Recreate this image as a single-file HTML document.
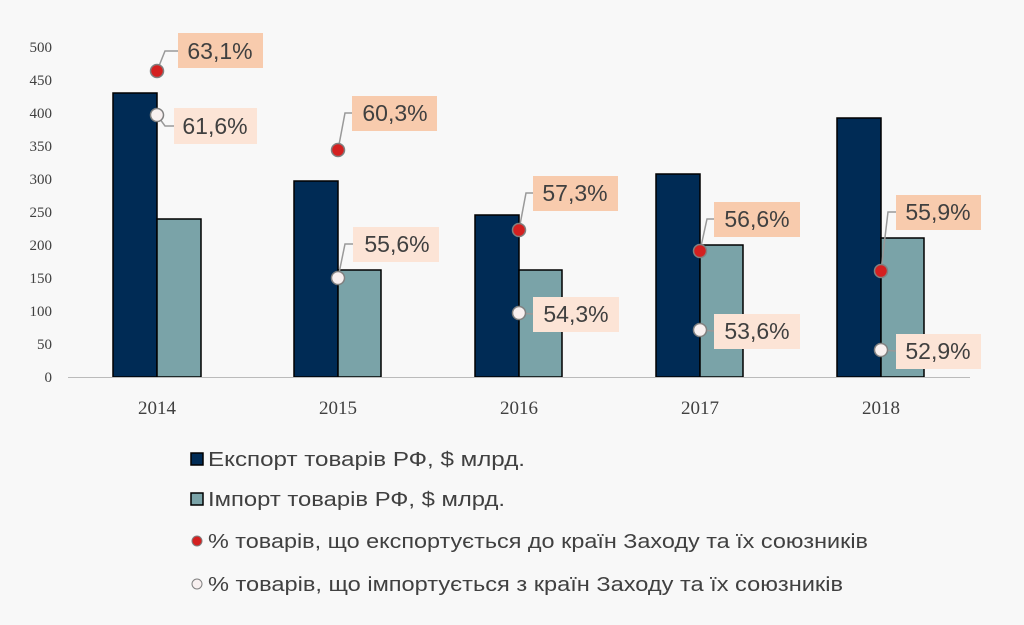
<!DOCTYPE html><html><head><meta charset="utf-8"><style>body{margin:0;background:#f8f8f8}svg{display:block}</style></head><body>
<svg width="1024" height="625" xmlns="http://www.w3.org/2000/svg" font-family="Liberation Sans, sans-serif">
<rect width="1024" height="625" fill="#f8f8f8"/>
<g font-family="Liberation Serif, serif" font-size="15" fill="#404040" text-anchor="end">
<text x="52" y="382">0</text><text x="52" y="349">50</text><text x="52" y="316">100</text><text x="52" y="283">150</text><text x="52" y="250">200</text><text x="52" y="217">250</text><text x="52" y="184">300</text><text x="52" y="151">350</text><text x="52" y="118">400</text><text x="52" y="85">450</text><text x="52" y="52">500</text>
</g>
<g font-family="Liberation Serif, serif" font-size="19" fill="#404040" text-anchor="middle">
<text x="157" y="414">2014</text><text x="338" y="414">2015</text><text x="519" y="414">2016</text><text x="700" y="414">2017</text><text x="881" y="414">2018</text>
</g>
<g stroke="#000" stroke-width="1.5">
<rect x="113" y="93" width="44" height="284" fill="#002b55"/><rect x="157" y="219" width="44" height="158" fill="#7aa3a8"/>
<rect x="294" y="181" width="44" height="196" fill="#002b55"/><rect x="338" y="270" width="43" height="107" fill="#7aa3a8"/>
<rect x="475" y="215" width="44" height="162" fill="#002b55"/><rect x="519" y="270" width="43" height="107" fill="#7aa3a8"/>
<rect x="656" y="174" width="44" height="203" fill="#002b55"/><rect x="700" y="245" width="43" height="132" fill="#7aa3a8"/>
<rect x="837" y="118" width="44" height="259" fill="#002b55"/><rect x="881" y="238" width="43" height="139" fill="#7aa3a8"/>
</g>
<line x1="68" y1="377.5" x2="970" y2="377.5" stroke="#bbb" stroke-width="1"/>
<g stroke="#999" stroke-width="1.5" fill="none">
<polyline points="157,71 165,51 178,51"/><polyline points="157,115 165,126 174,126"/>
<polyline points="338,150 345,113 352,113"/><polyline points="338,278 345,244 353,244"/>
<polyline points="519,230 526,193 533,193"/><polyline points="519,313 533,314"/>
<polyline points="700,251 707,219 714,219"/><polyline points="700,330 714,331"/>
<polyline points="881,271 888,212 896,212"/><polyline points="881,350 896,351"/>
</g>
<g font-size="23" fill="#404040" text-anchor="middle">
<rect x="178" y="33" width="85" height="35" fill="#f8cbad"/><text x="220" y="59">63,1%</text>
<rect x="174" y="108" width="83" height="36" fill="#fce4d6"/><text x="215" y="134">61,6%</text>
<rect x="352" y="96" width="85" height="35" fill="#f8cbad"/><text x="395" y="121">60,3%</text>
<rect x="353" y="227" width="86" height="35" fill="#fce4d6"/><text x="397" y="252">55,6%</text>
<rect x="533" y="176" width="85" height="35" fill="#f8cbad"/><text x="575" y="201">57,3%</text>
<rect x="533" y="297" width="86" height="35" fill="#fce4d6"/><text x="576" y="322">54,3%</text>
<rect x="714" y="202" width="86" height="35" fill="#f8cbad"/><text x="757" y="227">56,6%</text>
<rect x="714" y="314" width="86" height="35" fill="#fce4d6"/><text x="757" y="339">53,6%</text>
<rect x="896" y="195" width="85" height="35" fill="#f8cbad"/><text x="938" y="220">55,9%</text>
<rect x="896" y="334" width="85" height="35" fill="#fce4d6"/><text x="938" y="359">52,9%</text>
</g>
<g stroke="#808080" stroke-width="1.5">
<circle cx="157" cy="71" r="6.5" fill="#d42020"/><circle cx="157" cy="115" r="6.5" fill="#f8f0f0"/>
<circle cx="338" cy="150" r="6.5" fill="#d42020"/><circle cx="338" cy="278" r="6.5" fill="#f8f0f0"/>
<circle cx="519" cy="230" r="6.5" fill="#d42020"/><circle cx="519" cy="313" r="6.5" fill="#f8f0f0"/>
<circle cx="700" cy="251" r="6.5" fill="#d42020"/><circle cx="700" cy="330" r="6.5" fill="#f8f0f0"/>
<circle cx="881" cy="271" r="6.5" fill="#d42020"/><circle cx="881" cy="350" r="6.5" fill="#f8f0f0"/>
</g>
<rect x="191" y="453" width="12" height="12" fill="#002b55" stroke="#000" stroke-width="1.5"/>
<rect x="191" y="493" width="12" height="12" fill="#7aa3a8" stroke="#000" stroke-width="1.5"/>
<circle cx="197" cy="541" r="5" fill="#d42020" stroke="#808080"/>
<circle cx="197" cy="584" r="5" fill="#f8f0f0" stroke="#808080"/>
<g font-size="20" fill="#404040" xml:space="preserve">
<text x="208" y="466" textLength="317" lengthAdjust="spacingAndGlyphs">Експорт товарів РФ,  $ млрд.</text>
<text x="208" y="506" textLength="297" lengthAdjust="spacingAndGlyphs">Імпорт товарів РФ,  $ млрд.</text>
<text x="208" y="548" textLength="660" lengthAdjust="spacingAndGlyphs">% товарів, що експортується до країн Заходу та їх союзників</text>
<text x="208" y="591" textLength="635" lengthAdjust="spacingAndGlyphs">% товарів, що імпортується з країн Заходу та їх союзників</text>
</g>
</svg></body></html>
